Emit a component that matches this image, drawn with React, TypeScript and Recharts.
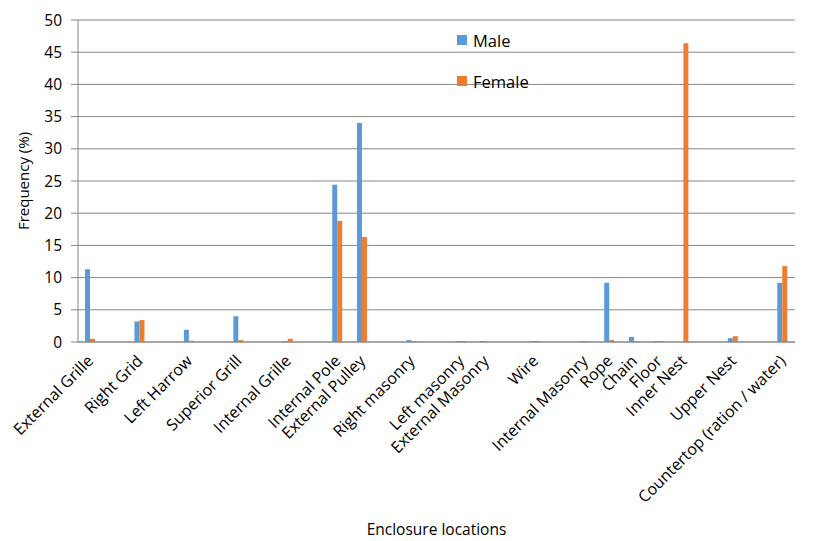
import { BarChart, Bar, XAxis, YAxis, CartesianGrid, Legend } from 'recharts';

document.body.style.margin = '0';

// blank names are the empty slots between labelled locations
const locations = [
  'External Grille', '', 'Right Grid', '', 'Left Harrow', '', 'Superior Grill', '', 'Internal Grille', '',
  'Internal Pole', 'External Pulley', '', 'Right masonry', '', 'Left masonry', 'External Masonry', '', 'Wire', '',
  'Internal Masonry', 'Rope', 'Chain', 'Floor', 'Inner Nest', '', 'Upper Nest', '', 'Countertop (ration / water)',
];

const male = [
  11.3, null, 3.2, null, 1.9, null, 4.0, null, 0.15, null,
  24.4, 34.0, null, 0.3, null, 0.15, 0.15, null, 0.15, null,
  0.15, 9.2, 0.8, 0.15, 0, null, 0.6, null, 9.2,
];

const female = [
  0.5, null, 3.4, null, 0.2, null, 0.3, null, 0.5, null,
  18.8, 16.3, null, 0.15, null, 0.15, 0, null, 0.15, null,
  0.15, 0.3, 0.15, 0.15, 46.4, null, 0.9, null, 11.8,
];

const yTicks = [0, 5, 10, 15, 20, 25, 30, 35, 40, 45, 50];

const data = locations.map((name, i) => ({ key: i, name, Male: male[i], Female: female[i] }));

const FONT = '"Open Sans", sans-serif';
const GRID = '#878787';

const RotatedTick = ({ x, y, payload }: any) => {
  const label = locations[payload.value];
  if (!label) return null;
  return (
    <text
      x={x + 4}
      y={y + 12}
      transform={`rotate(-45 ${x + 4} ${y + 12})`}
      textAnchor="end"
      fontSize={16}
      fontFamily={FONT}
      fill="#000"
    >
      {label}
    </text>
  );
};

const LegendBox = () => (
  <div style={{ fontFamily: FONT, fontSize: 16.5, color: '#000' }}>
    {[
      { name: 'Male', color: '#5B9BD5' },
      { name: 'Female', color: '#ED7D31' },
    ].map((item, i) => (
      <div key={item.name} style={{ display: 'flex', alignItems: 'center', height: 20, marginBottom: i === 0 ? 21 : 0 }}>
        <span style={{ width: 10, height: 10, background: item.color, marginRight: 6 }} />
        {item.name}
      </div>
    ))}
  </div>
);

export default function App() {
  return (
    <BarChart
      width={814}
      height={541}
      data={data}
      margin={{ top: 20, right: 19, left: 0, bottom: 0 }}
      barGap={0}
      barSize={5}
    >
      <CartesianGrid vertical={false} stroke={GRID} strokeWidth={1} />
      <XAxis
        dataKey="key"
        type="category"
        interval={0}
        height={199}
        tickLine={false}
        axisLine={{ stroke: GRID }}
        tick={<RotatedTick />}
        label={{ value: 'Enclosure locations', position: 'insideBottom', offset: 6, fontSize: 15.5, fontFamily: FONT, fill: '#000' }}
      />
      <YAxis
        width={78}
        domain={[0, 50]}
        ticks={yTicks}
        interval={0}
        tickSize={7}
        tickMargin={9}
        tickLine={{ stroke: GRID }}
        axisLine={{ stroke: GRID }}
        tick={{ fontSize: 15.5, fontFamily: FONT, fill: '#000' }}
        label={{ value: 'Frequency (%)', angle: -90, position: 'center', dx: -15, fontSize: 15, fontFamily: FONT, fill: '#000' }}
      />
      <Legend
        layout="vertical"
        verticalAlign="middle"
        align="center"
        content={<LegendBox />}
        wrapperStyle={{ left: 457, top: 30, width: 120 }}
      />
      <Bar dataKey="Male" fill="#5B9BD5" isAnimationActive={false} />
      <Bar dataKey="Female" fill="#ED7D31" isAnimationActive={false} />
    </BarChart>
  );
}
